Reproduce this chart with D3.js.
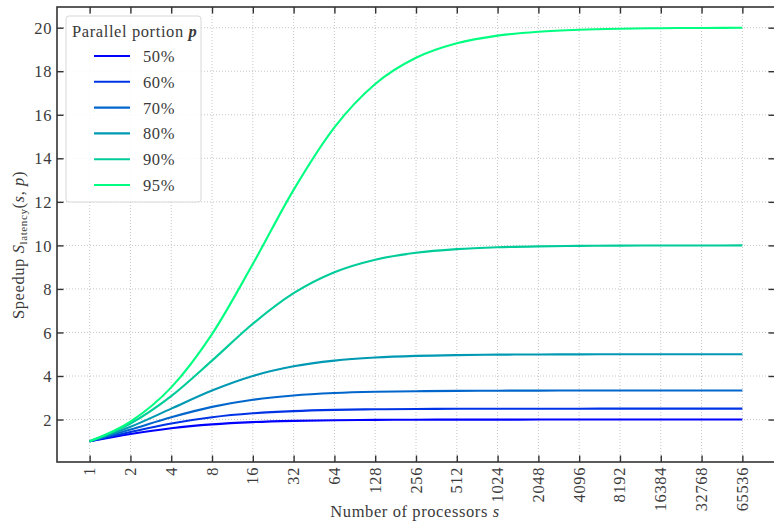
<!DOCTYPE html>
<html>
<head>
<meta charset="utf-8">
<script src="https://cdn.jsdelivr.net/npm/d3@7"></script>
<style>
  html, body { margin: 0; padding: 0; background: #fff; }
  svg { display: block; }
  svg text { font-family: "Liberation Serif", serif; fill: #3a3a3a; letter-spacing: 0.6px; }
</style>
</head>
<body>
<svg id="chart" width="774" height="521"></svg>
<script>
// ---- data ----
const processors = [1, 2, 4, 8, 16, 32, 64, 128, 256, 512, 1024, 2048, 4096, 8192, 16384, 32768, 65536];
const xTickLabels = ["1","2","4","8","16","32","64","128","256","512","1024","2048","4096","8192","16384","32768","65536"];
const yTicks = [2, 4, 6, 8, 10, 12, 14, 16, 18, 20];
const portions = ["50%", "60%", "70%", "80%", "90%", "95%"];
const speedup50 = [1, 1.333, 1.6, 1.778, 1.882, 1.939, 1.969, 1.984, 1.992, 1.996, 1.998, 1.999, 2.0, 2.0, 2.0, 2.0, 2.0];
const speedup60 = [1, 1.429, 1.818, 2.105, 2.286, 2.388, 2.443, 2.471, 2.485, 2.493, 2.496, 2.498, 2.499, 2.5, 2.5, 2.5, 2.5];
const speedup70 = [1, 1.538, 2.105, 2.581, 2.909, 3.107, 3.216, 3.274, 3.303, 3.318, 3.326, 3.330, 3.332, 3.333, 3.333, 3.333, 3.333];
const speedup80 = [1, 1.667, 2.5, 3.333, 4.0, 4.444, 4.706, 4.848, 4.923, 4.961, 4.981, 4.990, 4.995, 4.998, 4.999, 5.0, 5.0];
const speedup90 = [1, 1.818, 3.077, 4.706, 6.4, 7.805, 8.767, 9.343, 9.660, 9.827, 9.913, 9.956, 9.978, 9.989, 9.995, 9.997, 9.999];
const speedup95 = [1, 1.905, 3.478, 5.926, 9.143, 12.549, 15.422, 17.415, 18.618, 19.284, 19.636, 19.816, 19.908, 19.954, 19.977, 19.988, 19.994];
const seriesValues = [speedup50, speedup60, speedup70, speedup80, speedup90, speedup95];

// ---- layout ----
const mLeft = 57, mRight = 775, mTop = 7, mBottom = 462;
const FONT = "Liberation Serif, serif";
const FS = 16.5;
const svg = d3.select("#chart");

const x = d3.scaleLog().base(2).domain([Math.pow(2, -0.8), Math.pow(2, 16.8)]).range([mLeft, mRight]);
const y = d3.scaleLinear().domain([0.05, 20.95]).range([mBottom, mTop]);
const color = i => d3.interpolateRgb("rgb(0,0,255)", "rgb(0,255,128)")(i / (portions.length - 1));

// grid
const grid = svg.append("g");
grid.selectAll("line.gx").data(processors).join("line")
  .attr("x1", d => x(d)).attr("x2", d => x(d))
  .attr("y1", mTop).attr("y2", mBottom)
  .attr("stroke", "#b8b8b8").attr("stroke-width", 0.8).attr("stroke-dasharray", "1,2");
grid.selectAll("line.gy").data(yTicks).join("line")
  .attr("x1", mLeft).attr("x2", mRight)
  .attr("y1", d => y(d)).attr("y2", d => y(d))
  .attr("stroke", "#b8b8b8").attr("stroke-width", 0.8).attr("stroke-dasharray", "1,2");

// clip
svg.append("clipPath").attr("id", "clip").append("rect")
  .attr("x", mLeft).attr("y", mTop).attr("width", mRight - mLeft).attr("height", mBottom - mTop);

// lines
const line = d3.line().x((d, i) => x(processors[i])).y(d => y(d)).curve(d3.curveMonotoneX);
svg.append("g").attr("clip-path", "url(#clip)")
  .selectAll("path").data(seriesValues).join("path")
  .attr("d", d => line(d))
  .attr("fill", "none")
  .attr("stroke", (d, i) => color(i))
  .attr("stroke-width", 2.1);

// axes (ticks inward)
const tickLen = 6.5;
const axisBottom = d3.axisBottom(x).tickValues(processors).tickFormat("").tickSizeInner(-tickLen).tickSizeOuter(0);
const axisTop = d3.axisTop(x).tickValues(processors).tickFormat("").tickSizeInner(-tickLen).tickSizeOuter(0);
const axisLeft = d3.axisLeft(y).tickValues(yTicks).tickFormat(d3.format("d")).tickSizeInner(-tickLen).tickSizeOuter(0);
const axisRight = d3.axisRight(y).tickValues(yTicks).tickFormat("").tickSizeInner(-tickLen).tickSizeOuter(0);

function styleAxis(g) {
  g.attr("font-family", FONT);
  g.select(".domain").remove();
  g.selectAll(".tick line").attr("stroke", "#333").attr("stroke-width", 1.4);
}
svg.append("g").attr("transform", `translate(0,${mBottom})`).call(axisBottom).call(styleAxis);
svg.append("g").attr("transform", `translate(0,${mTop})`).call(axisTop).call(styleAxis);
const gl = svg.append("g").attr("transform", `translate(${mLeft},0)`).call(axisLeft).call(styleAxis);
gl.selectAll(".tick text").attr("font-family", FONT).attr("font-size", FS).attr("x", -5).attr("dy", "0.34em");
svg.append("g").attr("transform", `translate(${mRight},0)`).call(axisRight).call(styleAxis);

// frame
svg.append("rect").attr("x", mLeft).attr("y", mTop).attr("width", mRight - mLeft).attr("height", mBottom - mTop)
  .attr("fill", "none").attr("stroke", "#333").attr("stroke-width", 1.6);

// rotated x tick labels
svg.append("g").selectAll("text").data(processors).join("text")
  .attr("transform", d => `translate(${x(d) + 5.5},${mBottom + 5}) rotate(-90)`)
  .attr("text-anchor", "end")
  .attr("font-family", FONT)
  .attr("font-size", FS)
  .text((d, i) => xTickLabels[i]);

// axis labels
svg.append("text")
  .attr("x", 415).attr("y", 517).attr("text-anchor", "middle").attr("font-size", FS).attr("font-family", FONT)
  .call(t => {
    t.append("tspan").text("Number of processors ");
    t.append("tspan").attr("font-style", "italic").text("s");
  });

const yl = svg.append("text")
  .attr("transform", `translate(24,245) rotate(-90)`).attr("text-anchor", "middle").attr("font-size", FS).attr("font-family", FONT);
yl.append("tspan").text("Speedup ");
yl.append("tspan").attr("font-style", "italic").text("S");
yl.append("tspan").attr("font-size", 11).attr("dy", 3).text("latency");
yl.append("tspan").attr("dy", -3).text("(");
yl.append("tspan").attr("font-style", "italic").text("s");
yl.append("tspan").text(", ");
yl.append("tspan").attr("font-style", "italic").text("p");
yl.append("tspan").text(")");

// legend
const lg = svg.append("g");
lg.append("rect").attr("x", 66).attr("y", 16).attr("width", 135).attr("height", 186).attr("rx", 3)
  .attr("fill", "rgba(255,255,255,0.85)").attr("stroke", "#d8d8d8").attr("stroke-width", 1);
lg.append("text").attr("x", 72).attr("y", 37).attr("font-size", FS).attr("font-family", FONT)
  .call(t => {
    t.append("tspan").text("Parallel portion ");
    t.append("tspan").attr("font-style", "italic").attr("font-weight", "bold").text("p");
  });
const entry = lg.selectAll("g.entry").data(portions).join("g")
  .attr("transform", (d, i) => `translate(0,${56 + i * 25.8})`);
entry.append("line").attr("x1", 94).attr("x2", 130).attr("y1", 0).attr("y2", 0)
  .attr("stroke", (d, i) => color(i)).attr("stroke-width", 2.1);
entry.append("text").attr("x", 143).attr("y", 6).attr("font-size", FS).attr("font-family", FONT).text(d => d);
</script>
</body>
</html>
